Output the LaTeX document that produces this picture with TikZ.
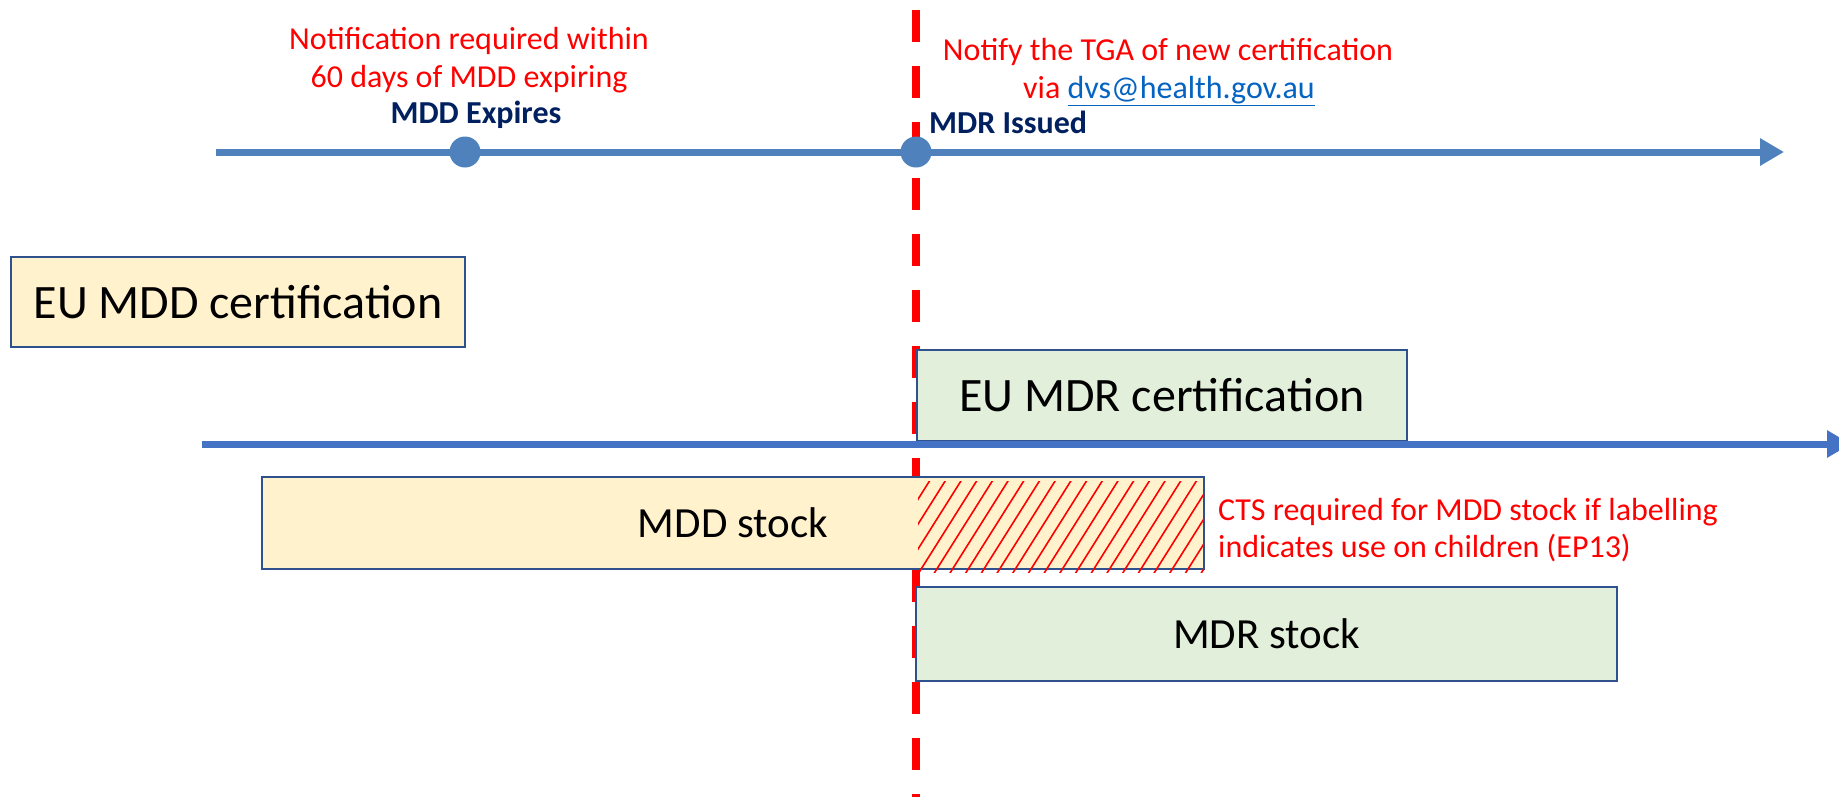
\documentclass[tikz,border=0pt]{standalone}
\usepackage{fontspec}
\setmainfont{Carlito}
\usetikzlibrary{arrows.meta}

\definecolor{axisblue}{RGB}{79,129,189}
\definecolor{axisbluetwo}{RGB}{68,114,196}
\definecolor{frameblue}{RGB}{47,82,143}
\definecolor{mddfill}{RGB}{255,242,204}
\definecolor{mdrfill}{RGB}{226,239,218}
\definecolor{eventnavy}{RGB}{0,32,96}
\definecolor{linkblue}{RGB}{5,99,193}
\definecolor{alertred}{RGB}{255,0,0}

\begin{document}
\begin{tikzpicture}[x=1pt,y=-1pt,
  note/.style={text=alertred, font=\fontsize{32}{38}\selectfont, inner sep=0pt, anchor=base},
  event/.style={text=eventnavy, font=\bfseries\fontsize{32}{38}\selectfont, inner sep=0pt, anchor=base},
  period/.style={draw=frameblue, line width=2pt, inner sep=0pt},
  milestone/.style={circle, fill=axisblue, inner sep=0pt, minimum size=31pt},
  axis/.style={line width=7pt, -{Triangle[length=24pt,width=26pt]}},
  cutoff/.style={alertred, line width=8pt, dash pattern=on 32pt off 24pt},
  hatchline/.style={alertred, line width=1.6pt}
]
\clip (0,0) rectangle (1839,796);
\fill[white] (0,0) rectangle (1839,796);

% transition date: red dashed marker
\coordinate (cuttop) at (916,10);
\coordinate (cutbottom) at (916,810);
\draw[cutoff] (cuttop) -- (cutbottom);

% upper timeline with milestones
\coordinate (axisAstart) at (216,152);
\coordinate (axisAend) at (1784,152);
\draw[axis, axisblue] (axisAstart) -- (axisAend);
\node[milestone] (mddexp) at (465,152) {};
\node[milestone] (mdriss) at (916,152) {};

\node[event] (mddexplabel) at (476,123) {MDD Expires};
\node[event, anchor=base west] (mdrisslabel) at (929,133) {MDR Issued};

% annotations above the timeline
\node[note] (noteAa) at (469,49) {Notification required within};
\node[note] (noteAb) at (469,87) {60 days of MDD expiring};
\node[note] (noteBa) at (1168,60) {Notify the TGA of new certification};
\node[note] (noteBb) at (1169,98) {via \textcolor{linkblue}{\underline{dvs@health.gov.au}}};

% certification periods
\node[period, fill=mddfill, minimum width=454pt, minimum height=90pt,
      font=\fontsize{48}{56}\selectfont] (mddcert) at (238,302) {EU MDD certification};
\node[period, fill=mdrfill, minimum width=490pt, minimum height=91pt,
      font=\fontsize{48}{56}\selectfont] (mdrcert) at (1162,395.5) {EU MDR certification};

% lower timeline
\coordinate (axisBstart) at (202,444);
\coordinate (axisBend) at (1851,444);
\draw[axis, axisbluetwo] (axisBstart) -- (axisBend);

% stock periods
\node[period, fill=mddfill, minimum width=942pt, minimum height=92pt,
      font=\fontsize{43}{51}\selectfont] (mddstock) at (733,523) {MDD stock};
\begin{scope}
  \clip (918,481) rectangle (1204,572);
  \foreach \i in {-5,...,19}
    \draw[hatchline] ({918+\i*15.7},574) -- ++(63,-100);
\end{scope}

\node[period, fill=mdrfill, minimum width=701pt, minimum height=94pt,
      font=\fontsize{43}{51}\selectfont] (mdrstock) at (1266.5,634) {MDR stock};

\node[note, anchor=base west] (noteCa) at (1218,520) {CTS required for MDD stock if labelling};
\node[note, anchor=base west] (noteCb) at (1218,557) {indicates use on children (EP13)};
\end{tikzpicture}
\end{document}
